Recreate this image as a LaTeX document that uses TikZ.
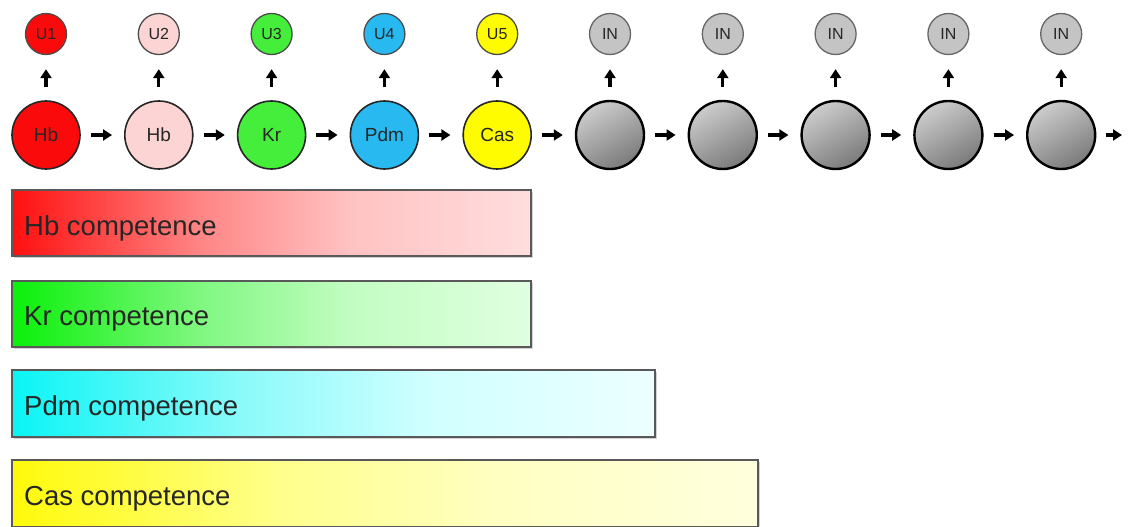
\documentclass[tikz,border=0pt]{standalone}
\usepackage{fontspec}
\setmainfont{Liberation Sans}
\usetikzlibrary{arrows.meta,shadows,shapes.geometric}
\definecolor{cRed}{RGB}{250,10,10}
\definecolor{cPink}{RGB}{252,212,212}
\definecolor{cGreen}{RGB}{70,238,60}
\definecolor{cBlue}{RGB}{40,185,240}
\definecolor{cYel}{RGB}{255,252,0}
\definecolor{cGrayS}{RGB}{196,196,196}
\pgfdeclarehorizontalshading{hbshade}{100bp}{rgb(0bp)=(1,0.06,0.06); rgb(25bp)=(1,0.06,0.06); rgb(43bp)=(1,0.52,0.52); rgb(57.5bp)=(1,0.76,0.76); rgb(75bp)=(1,0.87,0.87); rgb(100bp)=(1,0.87,0.87)}
\pgfdeclarehorizontalshading{krshade}{100bp}{rgb(0bp)=(0.04,0.94,0.04); rgb(25bp)=(0.04,0.94,0.04); rgb(43bp)=(0.5,0.97,0.5); rgb(57.5bp)=(0.76,0.99,0.76); rgb(75bp)=(0.88,1,0.88); rgb(100bp)=(0.88,1,0.88)}
\pgfdeclarehorizontalshading{pdshade}{100bp}{rgb(0bp)=(0.04,0.96,0.96); rgb(25bp)=(0.04,0.96,0.96); rgb(43bp)=(0.55,0.98,0.98); rgb(57.5bp)=(0.82,1,1); rgb(75bp)=(0.93,1,1); rgb(100bp)=(0.93,1,1)}
\pgfdeclarehorizontalshading{cashade}{100bp}{rgb(0bp)=(1,0.98,0.04); rgb(25bp)=(1,0.98,0.04); rgb(43bp)=(1,1,0.55); rgb(57.5bp)=(1,1,0.76); rgb(75bp)=(1,1,0.87); rgb(100bp)=(1,1,0.87)}
\tikzset{
  big/.style={circle,draw=black!85,line width=1.6pt,minimum size=68pt,inner sep=0pt,font=\fontsize{19}{19}\selectfont,text=black!85},
  gbig/.style={big,line width=2.4pt,draw=black,shading=axis,top color=black!20,bottom color=black!52,shading angle=30},
  small/.style={circle,draw=black!70,line width=1.3pt,minimum size=41pt,inner sep=0pt,font=\fontsize{16}{16}\selectfont,text=black!85},
  gsmall/.style={small,fill=cGrayS,draw=black!60},
  arr/.style={line width=3.2pt,-{Triangle[length=9pt,width=11pt]}},
  harr/.style={arr,shorten <=10pt,shorten >=12pt},
  varr/.style={arr,shorten <=13pt,shorten >=14pt},
  bar/.style={draw=black!65,line width=1.4pt,drop shadow={shadow xshift=2pt,shadow yshift=-2pt,opacity=0.35}},
  bartext/.style={anchor=base west,inner sep=0pt,font=\fontsize{27.5}{27.5}\selectfont,text=black!85}
}
\begin{document}
\begin{tikzpicture}[x=1pt,y=-1pt]
\useasboundingbox (0,0) rectangle (1130,527);
% big circles
\node[big,fill=cRed]  (b1) at (46,135) {Hb};
\node[big,fill=cPink] (b2) at (158.8,135) {Hb};
\node[big,fill=cGreen](b3) at (271.6,135) {Kr};
\node[big,fill=cBlue] (b4) at (384.4,135) {Pdm};
\node[big,fill=cYel]  (b5) at (497.2,135) {Cas};
\node[gbig] (b6) at (610,135) {};
\node[gbig] (b7) at (722.8,135) {};
\node[gbig] (b8) at (835.6,135) {};
\node[gbig] (b9) at (948.4,135) {};
\node[gbig] (b10) at (1061.2,135) {};
\coordinate (end) at (1122,135);
% small circles
\node[small,fill=cRed]  (s1) at (46,34) {U1};
\node[small,fill=cPink] (s2) at (158.8,34) {U2};
\node[small,fill=cGreen](s3) at (271.6,34) {U3};
\node[small,fill=cBlue] (s4) at (384.4,34) {U4};
\node[small,fill=cYel]  (s5) at (497.2,34) {U5};
\node[gsmall] (s6) at (610,34) {IN};
\node[gsmall] (s7) at (722.8,34) {IN};
\node[gsmall] (s8) at (835.6,34) {IN};
\node[gsmall] (s9) at (948.4,34) {IN};
\node[gsmall] (s10) at (1061.2,34) {IN};
% arrows
\foreach \i/\j in {1/2,2/3,3/4,4/5,5/6,6/7,7/8,8/9,9/10}{
  \draw[harr] (b\i) -- (b\j);
}
\draw[arr,shorten <=10pt] (b10) -- (end);
\foreach \i in {1,...,10}{
  \draw[varr] (b\i) -- (s\i);
}
% bars
\shade[bar,shading=hbshade] (12,190) rectangle (531,256);
\node[bartext] (t1) at (24,235) {Hb competence};
\shade[bar,shading=krshade] (12,281) rectangle (531,347);
\node[bartext] (t2) at (24,325) {Kr competence};
\shade[bar,shading=pdshade] (12,370) rectangle (655,437);
\node[bartext] (t3) at (24,415) {Pdm competence};
\shade[bar,shading=cashade] (12,460) rectangle (758,527);
\node[bartext] (t4) at (24,505) {Cas competence};
\end{tikzpicture}
\end{document}
